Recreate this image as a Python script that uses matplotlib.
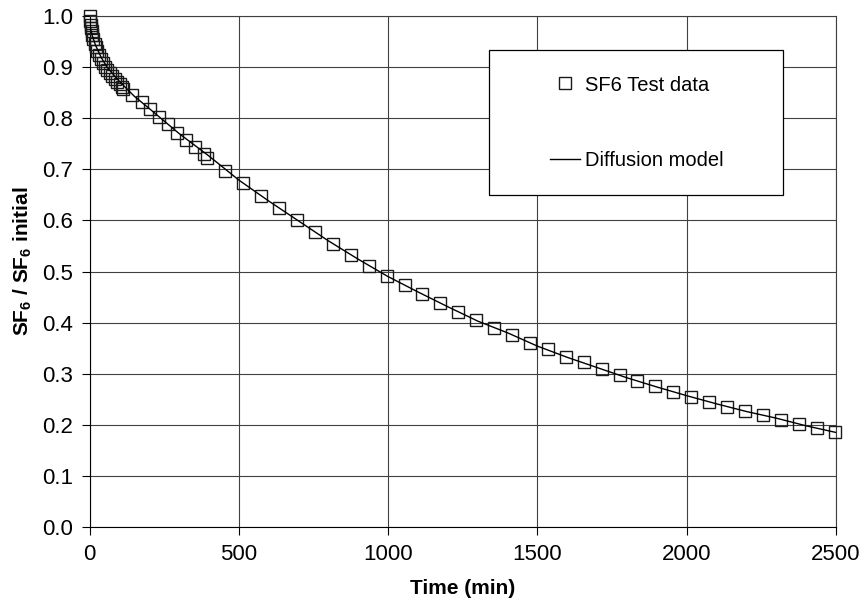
import matplotlib
matplotlib.use("Agg")
import matplotlib.pyplot as plt
from matplotlib.lines import Line2D
from matplotlib.patches import Rectangle

plt.rcParams['font.family'] = ['Liberation Sans', 'DejaVu Sans']
plt.rcParams['mathtext.fontset'] = 'custom'
plt.rcParams['mathtext.rm'] = 'Liberation Sans'
plt.rcParams['mathtext.bf'] = 'Liberation Sans:bold'

# measured SF6 data (time in min, fraction of initial)
test_time = [0, 2, 4, 6, 8, 10, 13, 17, 22, 26, 32, 38, 44, 51, 59, 67, 75, 84,
             93, 102, 108, 113, 143, 175, 204, 234, 263, 292, 324, 354, 384, 394,
             455, 515, 575, 635, 695, 755, 815, 875, 935, 995, 1055, 1115, 1175,
             1235, 1295, 1355, 1415, 1475, 1535, 1595, 1655, 1715, 1775, 1835,
             1895, 1955, 2015, 2075, 2135, 2195, 2255, 2315, 2375, 2435, 2495]
test_ratio = [1.0, 0.99, 0.983, 0.977, 0.970, 0.963, 0.955, 0.946, 0.940, 0.932,
              0.924, 0.916, 0.908, 0.901, 0.894, 0.888, 0.882, 0.876, 0.870, 0.866,
              0.862, 0.858, 0.845, 0.832, 0.818, 0.803, 0.788, 0.772, 0.757, 0.744,
              0.730, 0.723, 0.697, 0.673, 0.648, 0.624, 0.601, 0.577, 0.554, 0.533,
              0.511, 0.491, 0.474, 0.455, 0.438, 0.421, 0.405, 0.390, 0.376, 0.360,
              0.348, 0.333, 0.322, 0.309, 0.297, 0.285, 0.275, 0.264, 0.254, 0.245,
              0.235, 0.227, 0.219, 0.210, 0.201, 0.194, 0.186]

# diffusion model curve
model_time = [0, 2, 5, 10, 20, 40, 60, 100, 150, 200, 300, 400, 500, 600, 700, 800,
              900, 1000, 1100, 1200, 1300, 1400, 1500, 1600, 1700, 1800, 1900,
              2000, 2100, 2200, 2300, 2400, 2500]
model_ratio = [1.0, 0.982, 0.972, 0.960, 0.943, 0.918, 0.899, 0.872, 0.843, 0.819,
               0.770, 0.726, 0.679, 0.638, 0.599, 0.560, 0.524, 0.490, 0.460, 0.431,
               0.403, 0.380, 0.354, 0.332, 0.312, 0.292, 0.274, 0.257, 0.241, 0.226,
               0.213, 0.198, 0.185]

fig = plt.figure(figsize=(8.63, 6.06), dpi=100)
ax = fig.add_axes([89.5 / 863, 1 - 527 / 606, (836 - 89.5) / 863, (527 - 16) / 606])

ax.plot(test_time, test_ratio, linestyle='none', marker='s', markersize=8.2,
        markerfacecolor='none', markeredgecolor='#1a1a1a', markeredgewidth=1.0,
        clip_on=False, zorder=3)
ax.plot(model_time, model_ratio, color='black', linewidth=1.0, zorder=4)

ax.set_xlim(0, 2500)
ax.set_ylim(0, 1.0)
ax.set_xticks([0, 500, 1000, 1500, 2000, 2500])
ax.set_yticks([i / 10 for i in range(11)])
ax.set_yticklabels([f"{i / 10:.1f}" for i in range(11)])
ax.grid(True, color='#404040', linewidth=0.8)
ax.set_axisbelow(True)
ax.tick_params(direction='out', length=6, width=0.8, labelsize=16, pad=6)
for s in ['top', 'right']:
    ax.spines[s].set_color('#404040')
    ax.spines[s].set_linewidth(0.8)

ax.set_xlabel('Time (min)', fontsize=15, fontweight='bold', va='center')
ax.xaxis.set_label_coords(0.5, (527 - 588) / 511)
ax.set_ylabel(r'SF$_\mathbf{6}$ / SF$_\mathbf{6}$ initial', fontsize=15,
              fontweight='bold', va='center')
ax.yaxis.set_label_coords((23 - 89.5) / 746.5, 0.52)

# legend box
ax.add_patch(Rectangle((0.5356, 0.649), 0.9294 - 0.5356, 0.9335 - 0.649,
                       transform=ax.transAxes, facecolor='white',
                       edgecolor='black', linewidth=0.9, zorder=5))
handles = [Line2D([], [], linestyle='none', marker='s', markersize=8.2,
                  markerfacecolor='none', markeredgecolor='#1a1a1a',
                  markeredgewidth=1.0),
           Line2D([], [], color='black', linewidth=1.0)]
leg = ax.legend(handles, ['SF6 Test data', 'Diffusion model'], loc='center',
                bbox_to_anchor=(0.7327, 0.7912), frameon=False, fontsize=14.5,
                labelspacing=2.8, handlelength=1.5, handletextpad=0.25)
leg.set_zorder(6)

fig.savefig('out.png', dpi=100)
